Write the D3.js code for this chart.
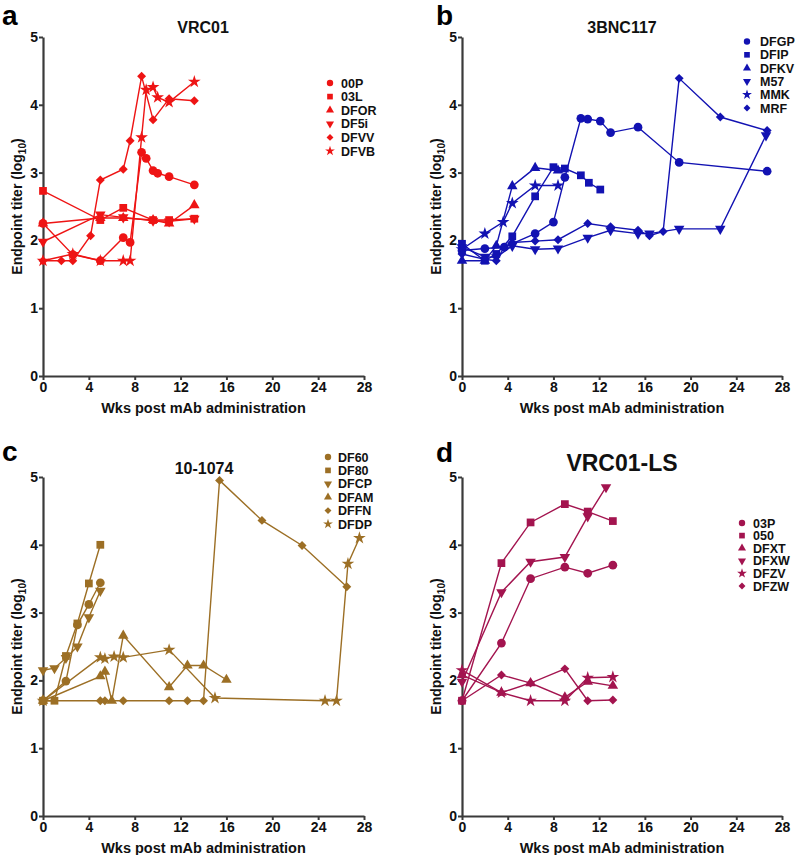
<!DOCTYPE html>
<html><head><meta charset="utf-8">
<script src="https://cdn.jsdelivr.net/npm/d3@7"></script>
<style>body{margin:0;background:#fff}svg{display:block}text{font-family:"Liberation Sans",Arial,sans-serif;font-weight:bold}</style>
</head><body>
<script>
// ---------- DATA ----------
const xTicks = [0,4,8,12,16,20,24,28];
const yTicks = [0,1,2,3,4,5];

// Panel a : VRC01
const namesA = ["00P","03L","DFOR","DF5i","DFVV","DFVB"];
const a00P = [[0,2.25],[2.6,1.79],[5,1.70],[7,2.04],[7.6,1.97],[8.6,3.30],[9.0,3.21],[9.6,3.03],[10.0,2.99],[11.0,2.94],[13.2,2.82]];
const a03L = [[0,2.73],[5,2.30],[7,2.48],[9.6,2.30],[11,2.30],[13.2,2.32]];
const aDFOR = [[0,2.25],[5,2.33],[7,2.33],[9.6,2.30],[11,2.25],[13.2,2.52]];
const aDF5i = [[0,1.98],[5,2.38],[7,2.34],[9.6,2.29],[11,2.28],[13.2,2.32]];
const aDFVV = [[0,1.70],[1.6,1.70],[2.6,1.70],[4.15,2.07],[5,2.89],[7,3.05],[7.6,3.47],[8.6,4.42],[9.6,3.78],[11,4.09],[13.2,4.06]];
const aDFVB = [[0,1.70],[2.6,1.80],[5,1.70],[7,1.70],[7.6,1.70],[8.6,3.52],[9.0,4.22],[9.6,4.26],[10.0,4.11],[11,4.04],[13.2,4.34]];

// Panel b : 3BNC117
const namesB = ["DFGP","DFIP","DFKV","M57","MMK","MRF"];
const bDFGP = [[0,1.85],[2,1.88],[3.7,1.90],[6.4,2.10],[8,2.27],[9,2.93],[10.4,3.80],[11,3.79],[12.1,3.76],[13,3.59],[15.4,3.67],[19,3.15],[26.7,3.02]];
const bDFIP = [[0,1.95],[2,1.70],[3,1.80],[4.4,2.06],[6.4,2.65],[8,3.08],[9,3.06],[10.4,2.96],[11.1,2.85],[12.1,2.75]];
const bDFKV = [[0,1.70],[2,1.70],[3,1.92],[4.4,2.80],[6.4,3.07],[8.4,3.03]];
const bM57 = [[0,1.90],[2,1.76],[3,1.75],[4.4,1.92],[6.4,1.87],[8.4,1.88],[11,2.04],[13,2.15],[15.4,2.10],[16.4,2.10],[19,2.17],[22.6,2.17],[26.6,3.55]];
const bMMK = [[0,1.87],[2,2.10],[3.6,2.27],[4.4,2.55],[6.4,2.81],[8.4,2.81]];
const bMRF = [[0,1.80],[2,1.72],[3,1.70],[3.7,1.90],[4.4,1.97],[6.4,1.99],[8.4,2.01],[11,2.25],[13,2.20],[15.4,2.15],[16.4,2.07],[17.6,2.13],[19,4.39],[22.6,3.82],[26.7,3.62]];

// Panel c : 10-1074
const namesC = ["DF60","DF80","DFCP","DFAM","DFFN","DFDP"];
const cDF60 = [[0,1.70],[2,1.99],[3,2.82],[4,3.12],[5,3.44]];
const cDF80 = [[0,1.70],[1,1.70],[2,2.36],[3,2.84],[4,3.43],[5,4.00]];
const cDFCP = [[0,2.15],[1,2.18],[2,2.33],[3,2.50],[4,2.93],[5,3.32]];
const cDFAM = [[0,1.70],[5,2.06],[5.4,2.13],[6,1.70],[7,2.66],[11,1.90],[12.6,2.22],[14,2.22],[16,2.01]];
const cDFFN = [[0,1.70],[5,1.70],[5.4,1.70],[7,1.70],[11,1.70],[12.6,1.70],[14,1.70],[15.4,4.95],[19.1,4.36],[22.6,3.99],[26.5,3.38]];
const cDFDP = [[0,1.70],[5,2.34],[5.4,2.32],[6.2,2.35],[7,2.34],[11,2.45],[15,1.74],[24.6,1.70],[25.6,1.70],[26.6,3.72],[27.6,4.10]];

// Panel d : VRC01-LS
const namesD = ["03P","050","DFXT","DFXW","DFZV","DFZW"];
const d03P = [[0,1.70],[3.45,2.55],[6,3.50],[9,3.67],[11,3.58],[13.2,3.70]];
const d050 = [[0,1.70],[3.45,3.73],[6,4.33],[9,4.60],[11,4.49],[13.2,4.35]];
const dDFXT = [[0,2.08],[3.45,1.82],[6,1.96],[9,1.75],[11,1.98],[13.2,1.92]];
const dDFXW = [[0,1.98],[3.45,3.30],[6,3.75],[9,3.82],[11,4.42],[12.6,4.85]];
const dDFZV = [[0,2.15],[3.45,1.82],[6,1.70],[9,1.70],[11,2.04],[13.2,2.05]];
const dDFZW = [[0,1.70],[3.45,2.08],[6,1.96],[9,2.17],[11,1.70],[13.2,1.71]];

// ---------- STYLE ----------
const SH = {
  circle:{t:d3.symbolCircle, s:60, r:0, ls:32},
  square:{t:d3.symbolSquare, s:60, r:0, ls:32},
  tri:{t:d3.symbolTriangle, s:48, r:0, ls:28},
  itri:{t:d3.symbolTriangle, s:48, r:180, ls:28},
  diamond:{t:d3.symbolSquare, s:40, r:45, ls:24},
  star:{t:d3.symbolStar, s:50, r:0, ls:30}
};
const shapesA = ["circle","square","tri","itri","diamond","star"];
const shapesB = ["circle","square","tri","itri","star","diamond"];
const shapesC = ["circle","square","itri","tri","diamond","star"];
const shapesD = ["circle","square","tri","itri","star","diamond"];

const panels = [
  {letter:"a", lx:2, ly:25, title:"VRC01", tsize:16, tx:203, ty:33, x0:43, x1:364, yTop:37, yBot:376,
   color:"#ee1414", names:namesA, shapes:shapesA, series:[a00P,a03L,aDFOR,aDF5i,aDFVV,aDFVB], legX:330, legTX:341, legY:83, legStep:13.6},
  {letter:"b", lx:436, ly:25, title:"3BNC117", tsize:16, tx:622, ty:33, x0:462, x1:782, yTop:37, yBot:376,
   color:"#1212b2", names:namesB, shapes:shapesB, series:[bDFGP,bDFIP,bDFKV,bM57,bMMK,bMRF], legX:747, legTX:760, legY:41.5, legStep:13.3},
  {letter:"c", lx:2, ly:461, title:"10-1074", tsize:16, tx:204, ty:474, x0:43, x1:364, yTop:477, yBot:816,
   color:"#9c6f25", names:namesC, shapes:shapesC, series:[cDF60,cDF80,cDFCP,cDFAM,cDFFN,cDFDP], legX:328, legTX:338, legY:457, legStep:13.4},
  {letter:"d", lx:436, ly:462, title:"VRC01-LS", tsize:23, tx:622, ty:471, x0:462, x1:782, yTop:477, yBot:816,
   color:"#a3144f", names:namesD, shapes:shapesD, series:[d03P,d050,dDFXT,dDFXW,dDFZV,dDFZW], legX:742, legTX:753, legY:523, legStep:12.6}
];

const svg = d3.select("body").append("svg").attr("width",800).attr("height",855);
const axisColor = "#3a3a3a";

panels.forEach(p => {
  const g = svg.append("g");
  const x = d3.scaleLinear().domain([0,28]).range([p.x0,p.x1]);
  const y = d3.scaleLinear().domain([0,5]).range([p.yBot,p.yTop]);

  const xa = g.append("g").attr("transform",`translate(0,${p.yBot})`)
    .call(d3.axisBottom(x).tickValues(xTicks).tickFormat(d3.format("d")).tickSize(4).tickPadding(2).tickSizeOuter(0));
  const ya = g.append("g").attr("transform",`translate(${p.x0},0)`)
    .call(d3.axisLeft(y).tickValues(yTicks).tickFormat(d3.format("d")).tickSize(4).tickPadding(1).tickSizeOuter(0));
  [xa,ya].forEach(a => {
    a.select(".domain").attr("stroke",axisColor).attr("stroke-width",2.2);
    a.selectAll(".tick line").attr("stroke",axisColor).attr("stroke-width",2);
    a.selectAll(".tick text").attr("fill","#111").style("font-size","14px")
      .style("font-family","'Liberation Sans',Arial,sans-serif").style("font-weight","bold");
  });

  g.append("text").attr("x",(p.x0+p.x1)/2).attr("y",p.yBot+37).attr("text-anchor","middle")
    .style("font-size","14.5px").attr("fill","#111").text("Wks post mAb administration");
  const yt = g.append("text").attr("transform",`translate(${p.x0-21},${(p.yTop+p.yBot)/2}) rotate(-90)`)
    .attr("text-anchor","middle").style("font-size","14px").attr("fill","#111");
  yt.append("tspan").text("Endpoint titer (log");
  yt.append("tspan").attr("dy",4).style("font-size","10px").text("10");
  yt.append("tspan").attr("dy",-4).text(")");

  g.append("text").attr("x",p.tx).attr("y",p.ty).attr("text-anchor","middle")
    .style("font-size",p.tsize+"px").attr("fill","#111").text(p.title);
  g.append("text").attr("x",p.lx).attr("y",p.ly).style("font-size","28px").attr("fill","#000").text(p.letter);

  const line = d3.line().x(d=>x(d[0])).y(d=>y(d[1]));
  p.series.forEach(s => {
    g.append("path").datum(s).attr("d",line).attr("fill","none")
      .attr("stroke",p.color).attr("stroke-width",1.4);
  });
  p.series.forEach((s,i) => {
    const sh = SH[p.shapes[i]];
    const sym = d3.symbol().type(sh.t).size(sh.s);
    g.selectAll(null).data(s).join("path")
      .attr("d",sym)
      .attr("transform",d=>`translate(${x(d[0])},${y(d[1])}) rotate(${sh.r})`)
      .attr("fill",p.color);
  });

  p.names.forEach((n,i) => {
    const sh = SH[p.shapes[i]];
    const yy = p.legY + i*p.legStep;
    g.append("path").attr("d",d3.symbol().type(sh.t).size(sh.ls))
      .attr("transform",`translate(${p.legX},${yy}) rotate(${sh.r})`).attr("fill",p.color);
    g.append("text").attr("x",p.legTX).attr("y",yy).attr("dy","0.36em")
      .style("font-size","12.5px").attr("fill","#111").text(n);
  });
});
</script>
</body></html>
